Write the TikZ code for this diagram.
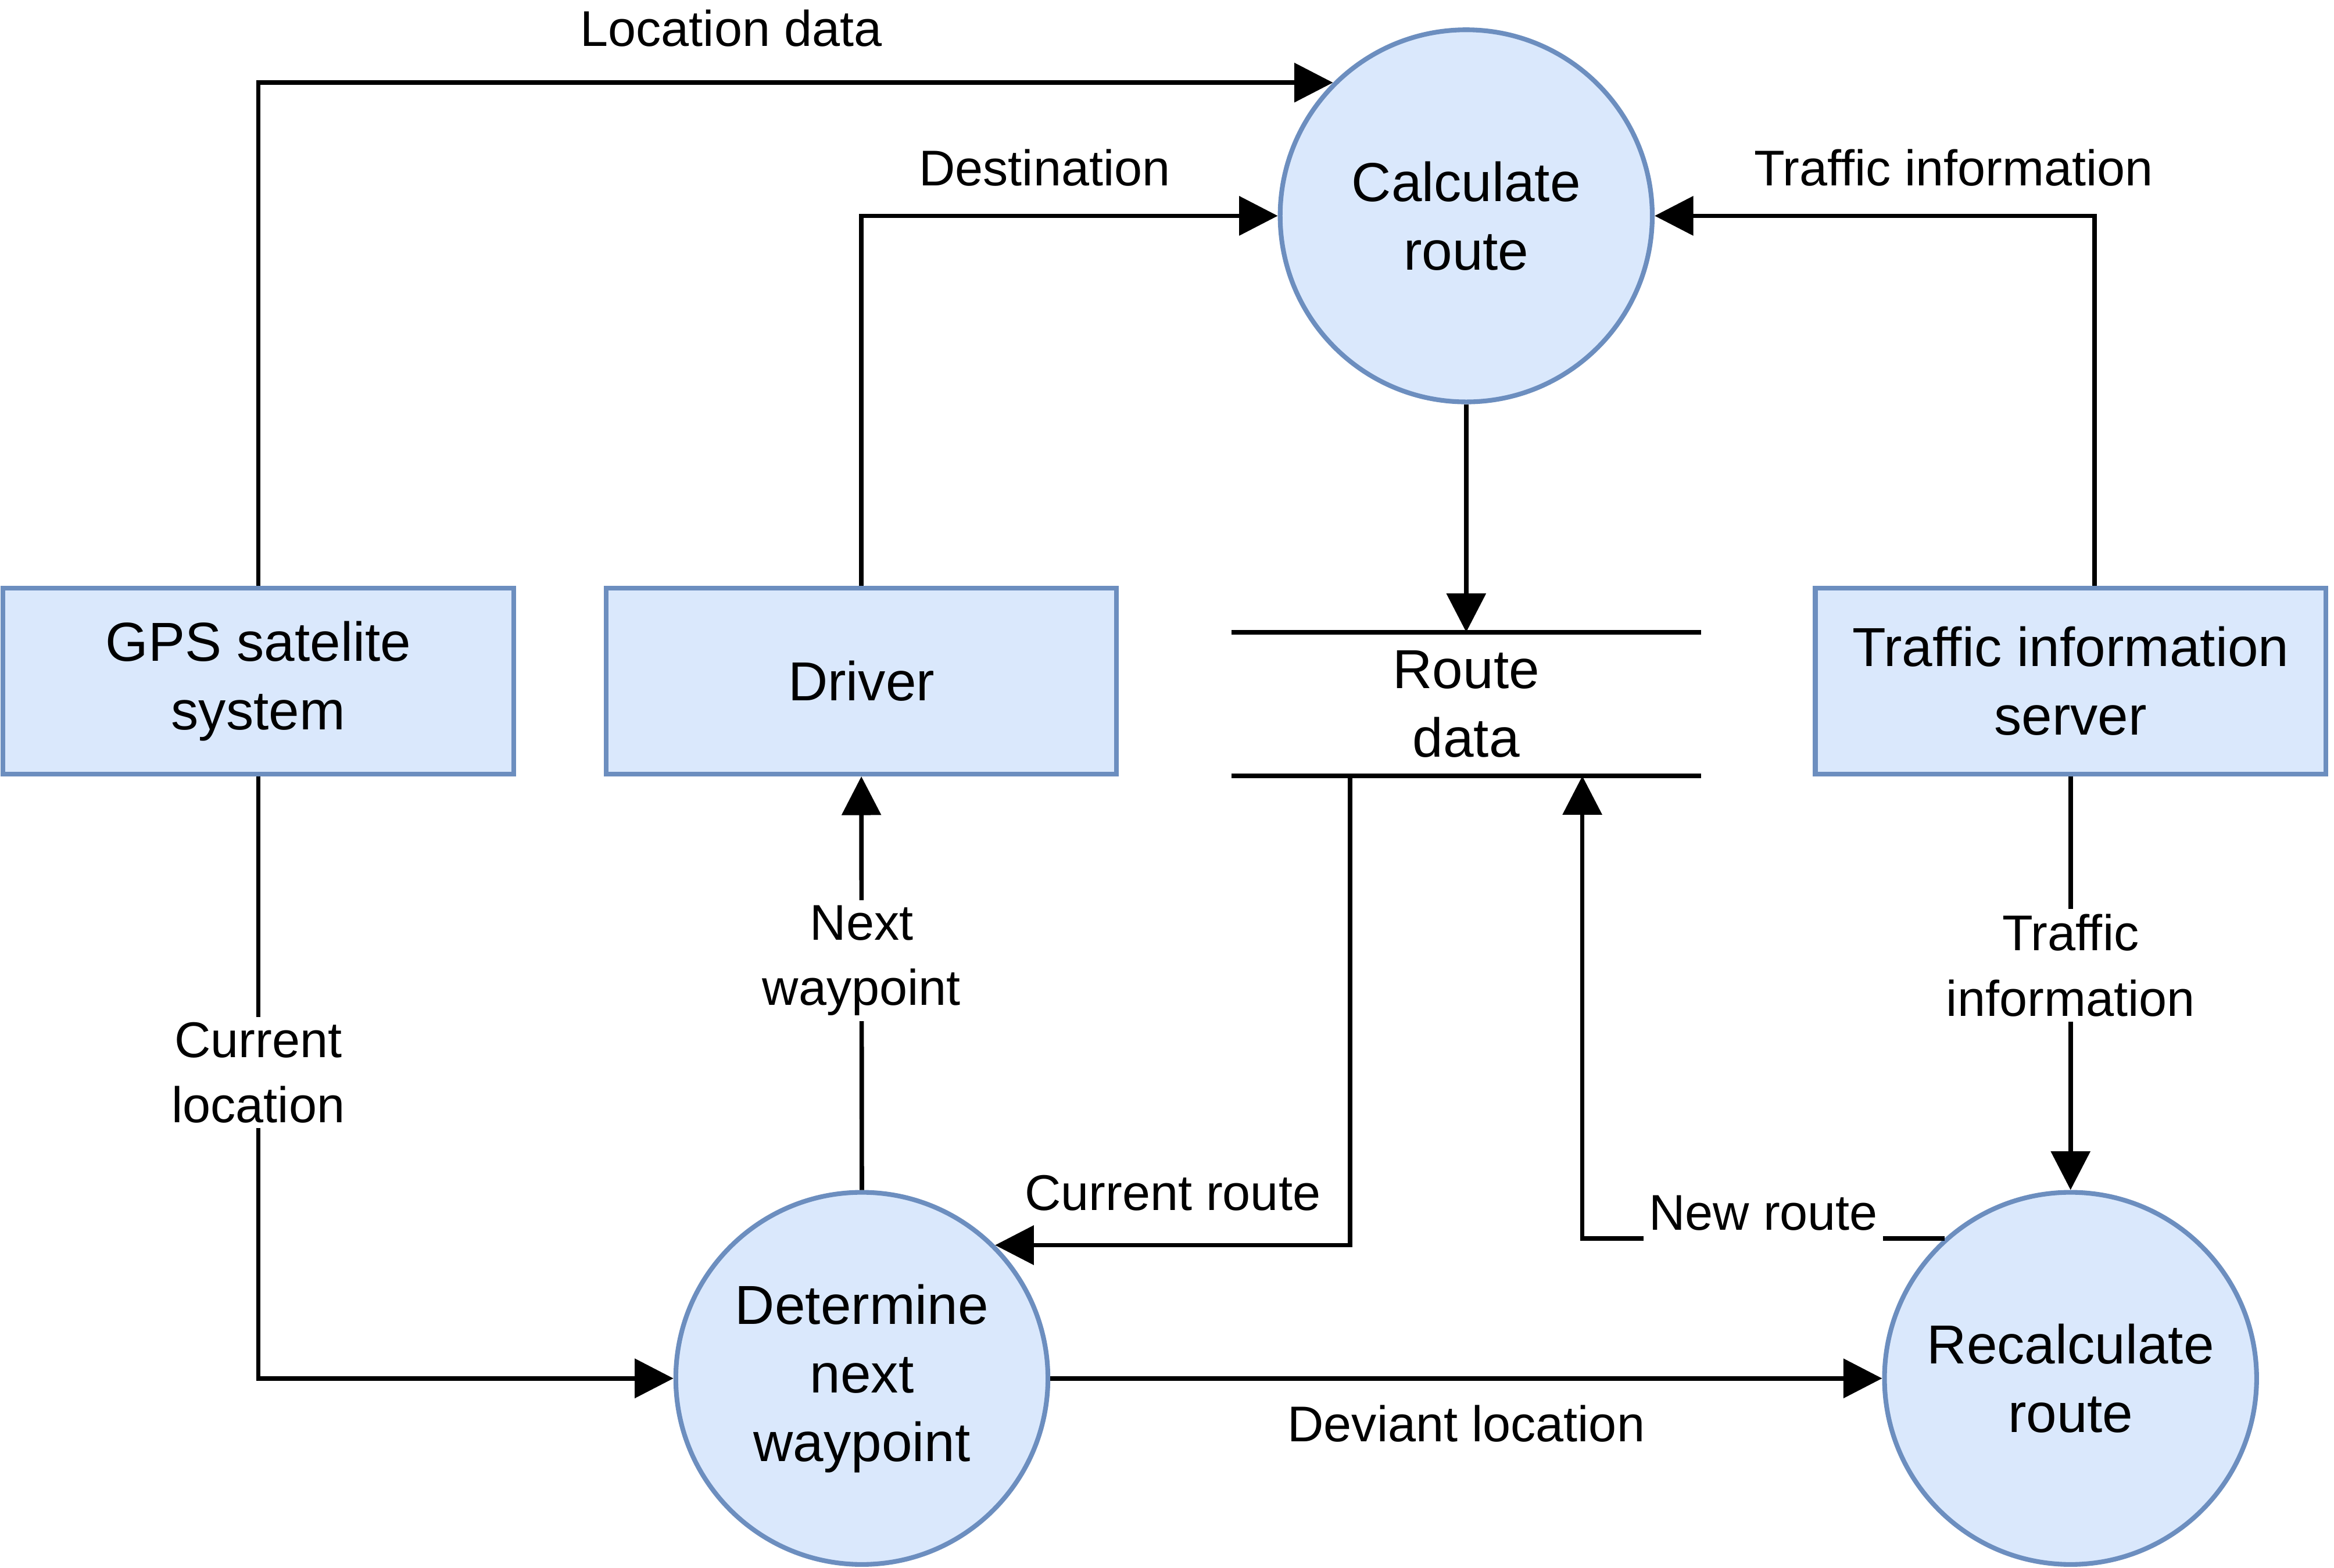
\documentclass[tikz,border=0pt]{standalone}
\usepackage{fontspec}
\setmainfont{Liberation Sans}
\usetikzlibrary{positioning, arrows.meta}

\definecolor{boxfill}{HTML}{DAE8FC}
\definecolor{boxline}{HTML}{6C8EBF}

\begin{document}
\begin{tikzpicture}[
    node distance=0.59cm,
    entity/.style={
        draw=boxline,
        fill=boxfill,
        line width=0.9pt,
        minimum width=3.43cm,
        minimum height=1.25cm,
        align=center,
        font=\fontsize{10.5}{13.1}\selectfont
    },
    process/.style={
        circle,
        draw=boxline,
        fill=boxfill,
        line width=0.9pt,
        minimum size=2.5cm,
        inner sep=0pt,
        align=center,
        font=\fontsize{10.5}{13.1}\selectfont
    },
    datastore/.style={
        minimum width=3.14cm,
        minimum height=0.94cm,
        align=center,
        font=\fontsize{10.5}{13.1}\selectfont
    },
    arrow/.style={-{Triangle[length=0.26cm, width=0.26cm]}, line width=0.85pt},
    line/.style={line width=0.85pt},
    lbl/.style={font=\fontsize{9.6}{12.5}\selectfont, align=center, fill=white, inner sep=1pt}
]

\useasboundingbox (0,0) rectangle (15.68,-10.53);

\node[entity] (gps) at (1.735,-4.575) {GPS satelite\\system};
\node[entity] (drv) [right=of gps] {Driver};
\node[entity] (tis) at (13.91,-4.575) {Traffic information\\server};
\node[datastore] (store) at (9.85,-4.73) {Route\\data};

\node[process] (calc) at (9.85,-1.45) {Calculate\\route};
\node[process] (det) at (5.79,-9.26) {Determine\\next\\waypoint};
\node[process] (recalc) at (13.91,-9.26) {Recalculate\\route};

\draw[line] (store.north west) -- (store.north east)
            (store.south west) -- (store.south east);

\draw[arrow] (gps.north) |- (calc.north west)
    node[lbl, pos=0.72, above=0.19cm] (l1) {Location data};
\draw[arrow] (drv.north) |- (calc.west)
    node[lbl, pos=0.72, above=0.15cm] (l2) {Destination};
\draw[arrow] ([xshift=0.16cm]tis.north) |- (calc.east)
    node[lbl, pos=0.66, above=0.15cm] (l3) {Traffic information};
\draw[arrow] (calc.south) -- (store.north);

\draw[arrow] (gps.south) |- (det.west)
    node[lbl, pos=0.246] (l4) {Current\\location};
\draw[arrow] (det.north) -- (drv.south)
    node[lbl, pos=0.555] (l5) {Next\\waypoint};
\draw[arrow] ([xshift=-0.78cm]store.south) |- (det.north east)
    node[lbl, pos=0.75, above=0.18cm] (l6) {Current route};
\draw[arrow] (det) -- (recalc)
    node[lbl, midway, below=0.13cm] (l7) {Deviant location};
\draw[arrow] (tis.south) -- (recalc.north)
    node[lbl, midway, yshift=0.12cm] (l8) {Traffic\\information};
\draw[arrow] (recalc.132) -| ([xshift=0.78cm]store.south)
    node[lbl, pos=0.25, yshift=0.17cm, inner ysep=3pt] (l9) {New route};

\end{tikzpicture}
\end{document}
